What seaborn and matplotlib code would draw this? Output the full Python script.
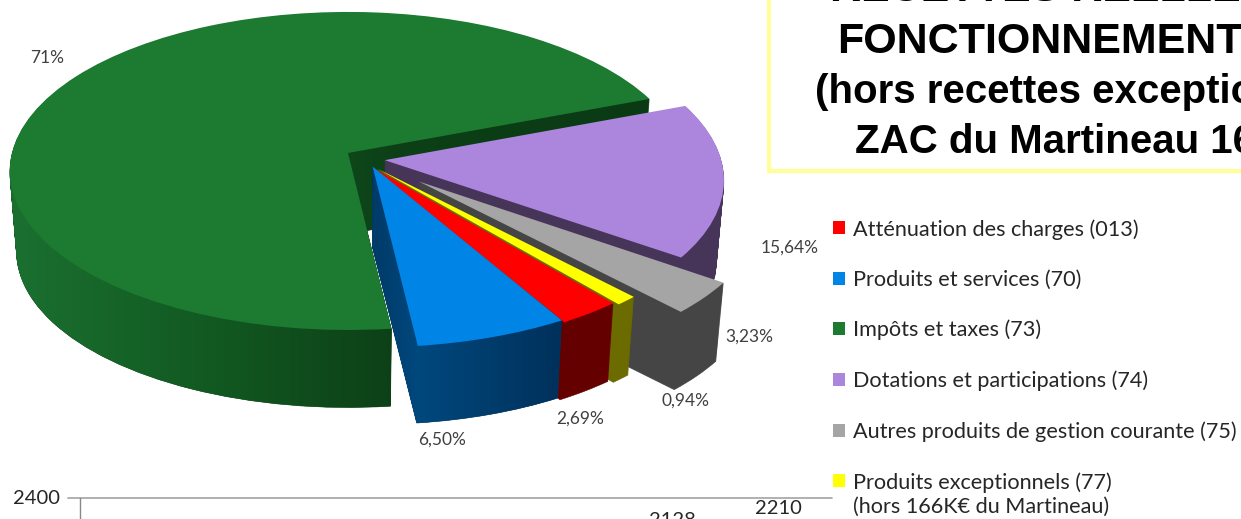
import matplotlib
matplotlib.use("Agg")
import matplotlib.pyplot as plt
import matplotlib.transforms as mtransforms
from matplotlib.colors import LinearSegmentedColormap
from matplotlib.patches import Rectangle
from matplotlib.path import Path
import numpy as np
import seaborn as sns

# parts du camembert, dans le sens du dessin
parts = ["Impôts et taxes (73)", "Produits et services (70)", "Atténuation des charges (013)",
         "Produits exceptionnels (77)", "Autres produits de gestion courante (75)",
         "Dotations et participations (74)"]
values = [71, 6.50, 2.69, 0.94, 3.23, 15.64]
percent_labels = ["71%", "6,50%", "2,69%", "0,94%", "3,23%", "15,64%"]
explode = [0, 0.09, 0.115, 0.133, 0.27, 0.11]
nudge = [(0, 0), (15, 0), (3, 0), (0, 0), (1, 0), (0, 5)]
top_colors = ["#1c7a31", "#0084e6", "#ff0000", "#ffff00", "#a5a5a5", "#ab86dc"]
side_colors = ["#10481b", "#00375f", "#640000", "#6b6b00", "#454545", "#463558"]
draw_rank = [0, 5, 4, 3, 2, 1]
label_xy = [(47, 58), (442, 440), (580, 419), (685, 401), (749, 337), (790, 248)]
legend_order = [2, 1, 0, 5, 4, 3]

title_lines = ["RECETTES RÉELLES DE", "FONCTIONNEMENT", "(hors recettes exceptionnelles", "ZAC du Martineau 166K€)"]
title_x = [830, 837, 815, 855]
title_y = [1, 53, 103, 153]
title_size = [31, 31, 29, 29]

# graphique du bas, presque entierement coupe
bar_labels = ["2128", "2210"]
bar_label_xy = [(672, 521), (778, 509)]


class Perspective(mtransforms.Transform):
    input_dims = 2
    output_dims = 2

    def __init__(self, drop=0.0, scale=1.0):
        super().__init__()
        self.drop = drop
        self.scale = scale

    def transform_non_affine(self, xy):
        xy = np.asarray(xy)
        w = 1 + 0.113 * xy[:, 1]
        return np.column_stack([348 + 336 * self.scale * xy[:, 0] / w,
                                153 + self.drop - 157 * self.scale * xy[:, 1] / w])


sns.set_theme(style="white")
plt.rcParams["font.family"] = ["Lato", "DejaVu Sans"]
fig, ax = plt.subplots(figsize=(12.41, 5.19), dpi=100)
fig.subplots_adjust(0, 0, 1, 1)

n_layers = 80
side_paths = {0: [], 1: []}
top_wedges = None
for layer in range(n_layers, -1, -1):
    colors = top_colors if layer == 0 else side_colors
    wedges, _ = ax.pie(values, explode=explode, colors=sns.color_palette(colors), startangle=21,
                       radius=1, center=(0, 0), wedgeprops={"linewidth": 0.4 if layer else 0})
    t = layer / n_layers
    for i, w in enumerate(wedges):
        tr = Perspective(drop=81 * t, scale=1 - 0.02 * t) + mtransforms.Affine2D().translate(*nudge[i])
        w.set_edgecolor(colors[i])
        w.set_transform(tr + ax.transData)
        w.set_zorder(draw_rank[i] + (n_layers - layer) / 1000)
        if layer and i in side_paths:
            side_paths[i].append(tr.transform_path(w.get_path()))
    top_wedges = wedges


def side_gradient(i, x0, x1, stops):
    # degrade horizontal sur le flanc d'une part
    cmap = LinearSegmentedColormap.from_list("flanc", stops)
    im = ax.imshow(np.linspace(0, 1, 256)[None, :], cmap=cmap, extent=(x0, x1, 519, -20), aspect="auto",
                   zorder=draw_rank[i] + (n_layers - 0.5) / 1000)
    im.set_clip_path(Path.make_compound_path(*side_paths[i]), ax.transData)


side_gradient(0, 10, 650, [(0, "#1b7030"), (0.3, "#125a22"), (0.6, "#0d4017"), (1, "#0a3a14")])
side_gradient(1, 370, 565, [(0, "#003a68"), (0.25, "#00487d"), (1, "#00305a")])

ax.set_aspect("auto")
ax.set_xlim(0, 1241)
ax.set_ylim(519, 0)
ax.set_axis_off()

for txt, (x, y) in zip(percent_labels, label_xy):
    ax.text(x, y, txt, fontsize=12.5, color="#404040", ha="center", va="center", zorder=10)

# cadre du titre
ax.add_patch(Rectangle((769, -20), 600, 191, facecolor="white", edgecolor="#ffff99", linewidth=3, zorder=10))
for txt, x, y, size in zip(title_lines, title_x, title_y, title_size):
    ax.text(x, y, txt, fontsize=size, fontweight="bold", family="Liberation Sans", color="black",
            ha="left", va="baseline", zorder=11)

handles = [top_wedges[i] for i in legend_order]
labels = [parts[i] for i in legend_order]
leg = ax.legend(handles, labels, loc="upper left", bbox_to_anchor=(833 / 1241, 1 - 219 / 519), frameon=False,
                fontsize=15.6, handlelength=0.55, handleheight=0.55, handletextpad=0.37, labelspacing=1.39,
                borderpad=0, borderaxespad=0, labelcolor="#262626")
leg.set_zorder(12)
ax.text(853, 507, "(hors 166K€ du Martineau)", fontsize=15.6, color="#262626", ha="left", va="center", zorder=12)

# haut du graphique du bas
ax.plot([68, 832], [498, 498], color="#aaaaaa", lw=1.3, zorder=5)
ax.plot([80, 80], [498, 519], color="#888888", lw=1, zorder=5)
ax.text(37, 499, "2400", fontsize=14.5, color="#262626", ha="center", va="center", zorder=6)
for txt, (x, y) in zip(bar_labels, bar_label_xy):
    ax.text(x, y, txt, fontsize=14.5, color="#262626", ha="center", va="center", zorder=6)

fig.savefig("out.png", dpi=100)
